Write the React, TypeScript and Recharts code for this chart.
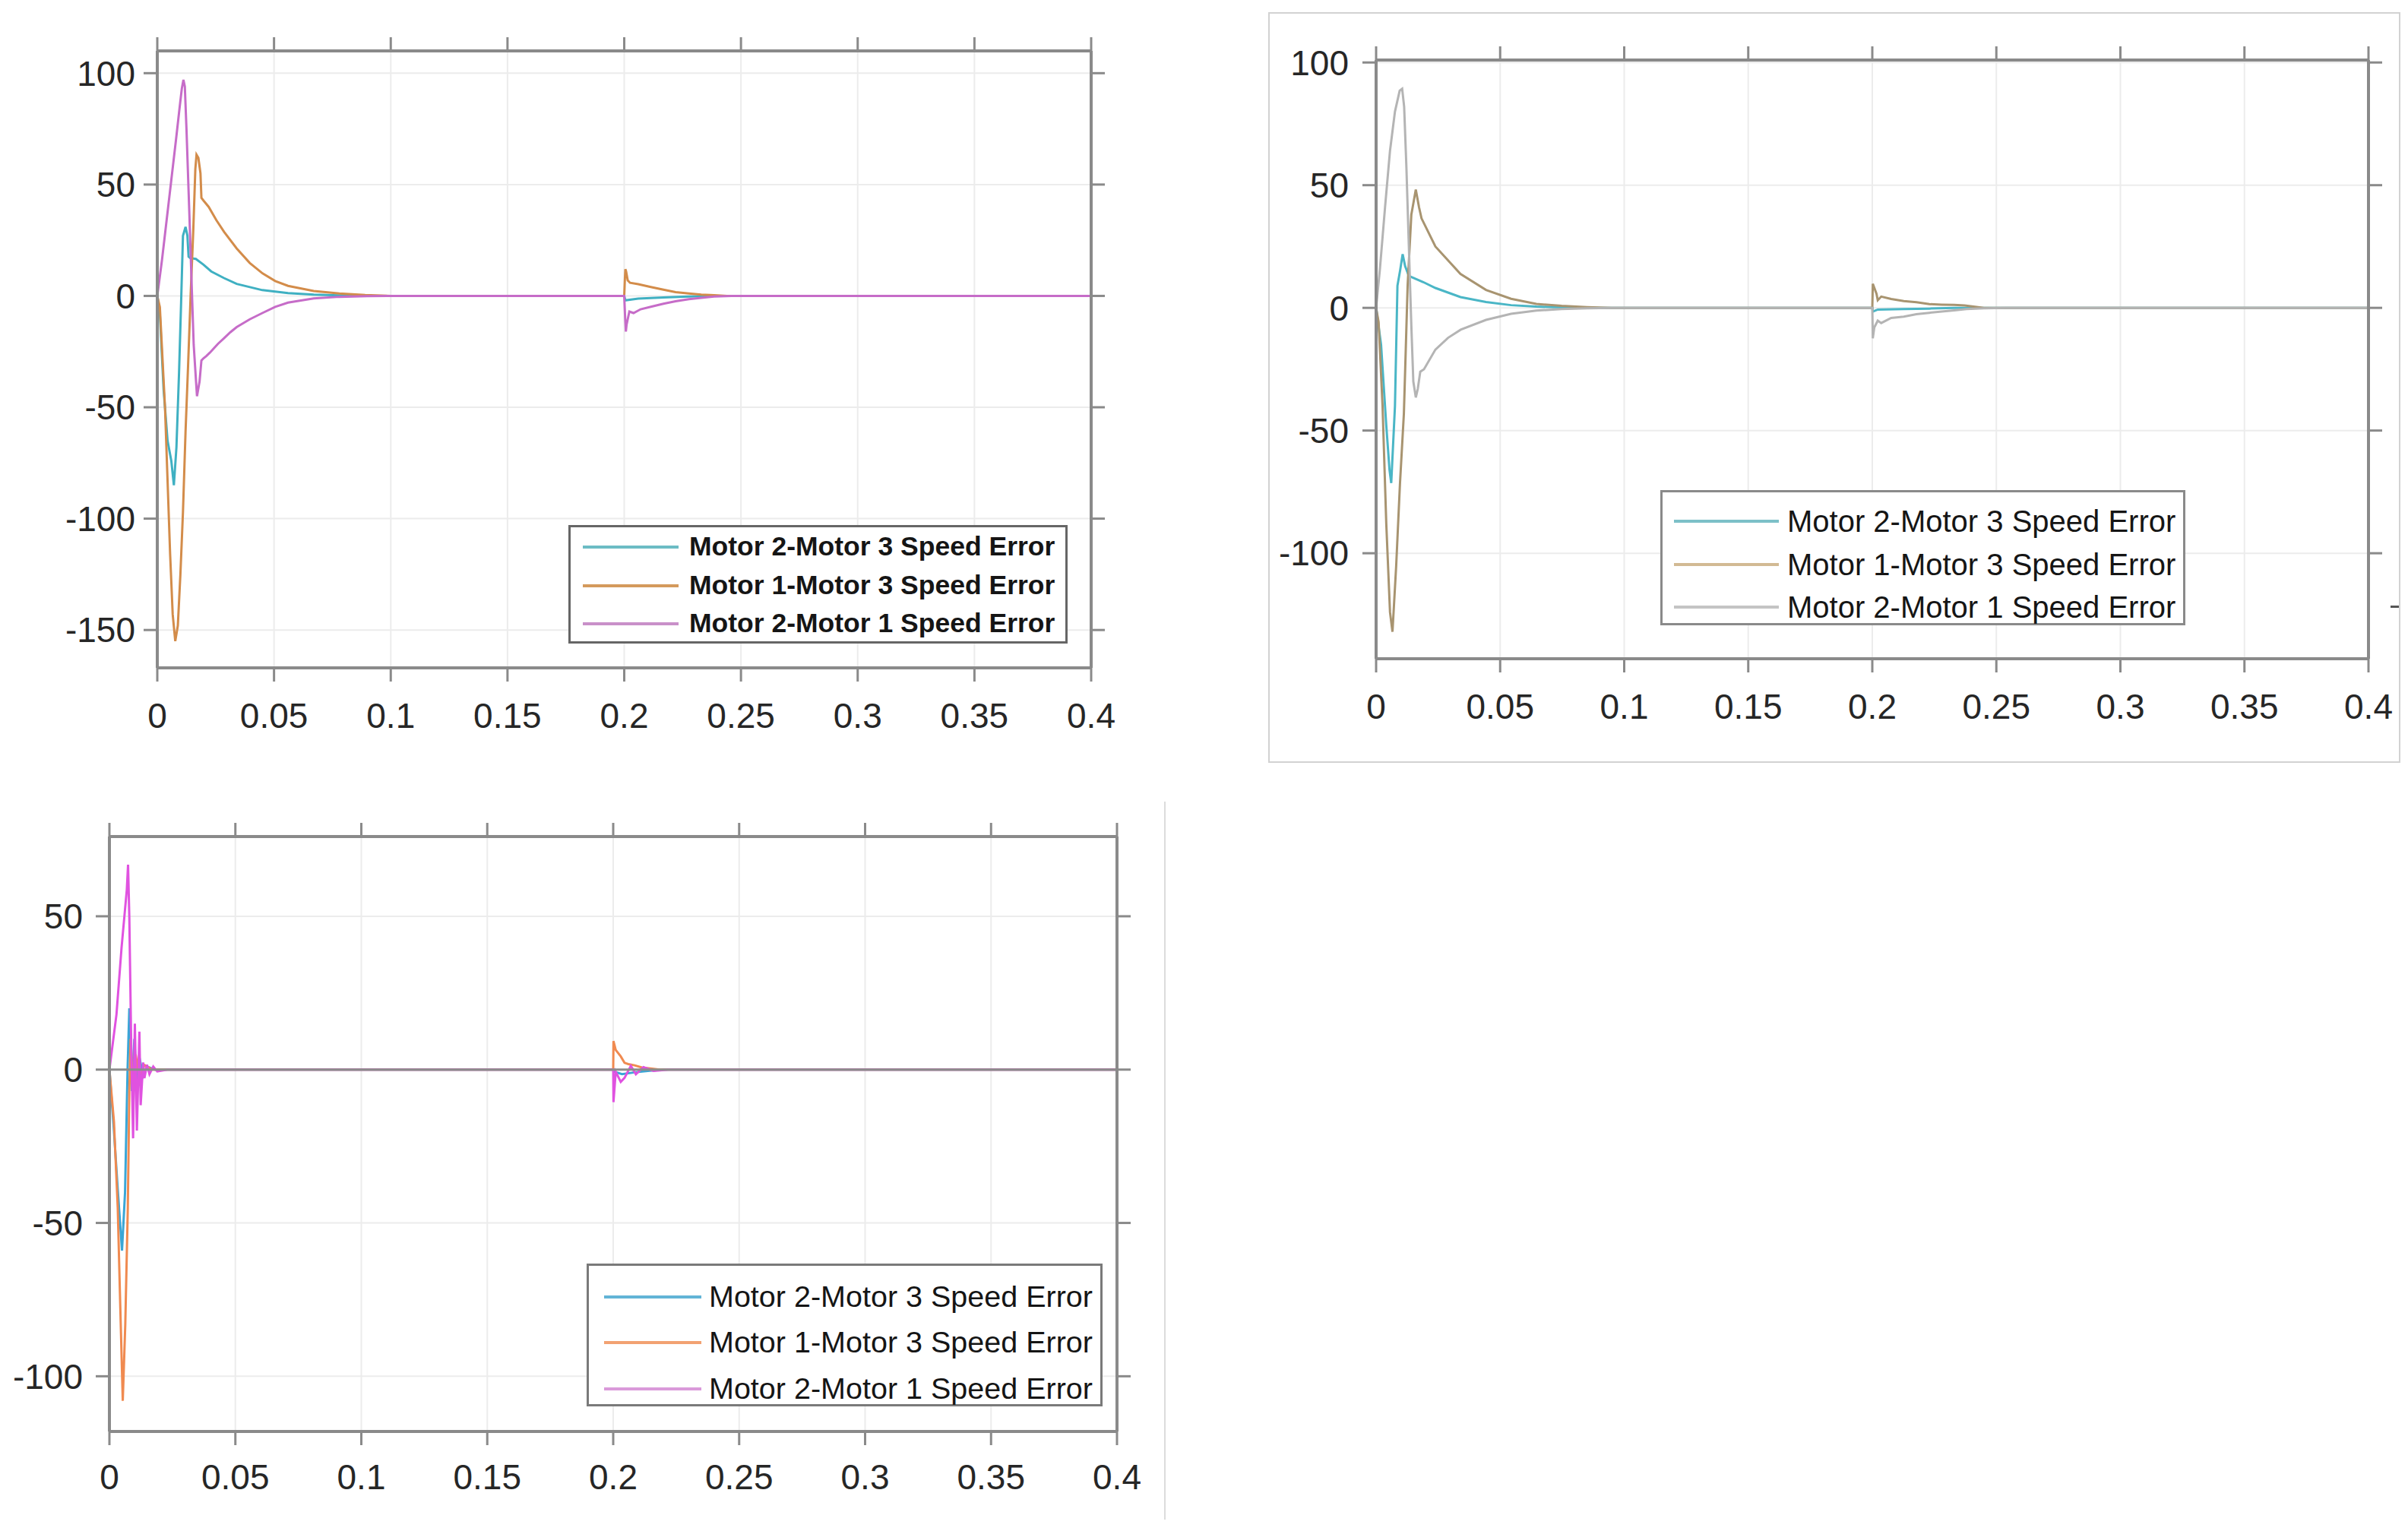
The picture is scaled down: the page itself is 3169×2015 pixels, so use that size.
import React from 'react';
import { LineChart, Line, XAxis, YAxis, CartesianGrid, ReferenceLine } from 'recharts';

// ---------- shared ----------
const xTicks = [0, 0.05, 0.1, 0.15, 0.2, 0.25, 0.3, 0.35, 0.4];
const seriesNames = [
  'Motor 2-Motor 3 Speed Error',
  'Motor 1-Motor 3 Speed Error',
  'Motor 2-Motor 1 Speed Error',
];

// ---------- plot 1 (top left) ----------
const p1YTicks = [-150, -100, -50, 0, 50, 100];
const p1YDomain = [-167, 110];
const p1M23: [number, number][] = [
  [0, 0], [0.0011, -8], [0.0027, -42], [0.0044, -65], [0.006, -74], [0.0071, -85], [0.0082, -68],
  [0.0093, -35], [0.0102, -3], [0.011, 27], [0.0121, 31], [0.0129, 27], [0.0134, 17.6], [0.0141, 17],
  [0.0165, 16.6], [0.0198, 14], [0.0231, 11], [0.0286, 8], [0.034, 5.4], [0.045, 2.6], [0.056, 1.3],
  [0.067, 0.6], [0.078, 0.2], [0.089, 0], [0.2, 0], [0.2005, -2], [0.206, -1.2], [0.2168, -0.7],
  [0.2277, -0.3], [0.2385, 0], [0.4, 0],
];
const p1M13: [number, number][] = [
  [0, 0], [0.0011, -5], [0.0033, -50], [0.0055, -116], [0.0066, -143], [0.0077, -155], [0.0088, -148],
  [0.0099, -125], [0.011, -97], [0.0121, -61], [0.0132, -31], [0.0143, 0.7], [0.0154, 29], [0.0163, 57],
  [0.0168, 63.4], [0.0176, 62], [0.0185, 55], [0.0189, 44], [0.0198, 42.8], [0.022, 40], [0.0253, 34],
  [0.0286, 28.8], [0.034, 21.3], [0.0396, 14.8], [0.0451, 10.1], [0.0505, 6.7], [0.056, 4.5],
  [0.067, 2.2], [0.078, 1.1], [0.089, 0.4], [0.1, 0], [0.2, 0], [0.2003, 8], [0.2005, 12], [0.2008, 11],
  [0.2015, 7], [0.2025, 5.9], [0.206, 5.3], [0.2114, 4], [0.2168, 2.8], [0.222, 1.7], [0.2277, 1.1],
  [0.233, 0.6], [0.2385, 0.3], [0.244, 0], [0.4, 0],
];
const p1M21: [number, number][] = [
  [0, 0], [0.002, 16], [0.004, 34], [0.006, 52], [0.008, 70], [0.0095, 84], [0.0105, 93], [0.0112, 97],
  [0.0118, 94], [0.0125, 75], [0.0137, 38], [0.0148, 2.6], [0.0156, -22], [0.017, -45], [0.0181, -38.5],
  [0.0189, -29], [0.0198, -28], [0.021, -27], [0.0225, -25.5], [0.026, -21.5], [0.0286, -19],
  [0.0313, -16.3], [0.034, -14], [0.0396, -10.5], [0.045, -7.7], [0.0505, -4.9], [0.056, -3],
  [0.067, -1.1], [0.078, -0.4], [0.09, -0.1], [0.1, 0], [0.2, 0], [0.2004, -10], [0.2007, -16],
  [0.201, -13], [0.2022, -7], [0.204, -7.7], [0.207, -6], [0.2114, -4.9], [0.2168, -3.5], [0.222, -2.4],
  [0.2277, -1.5], [0.233, -0.9], [0.2385, -0.3], [0.246, 0], [0.4, 0],
];

// ---------- plot 2 (top right) ----------
const p2YTicks = [-100, -50, 0, 50, 100];
const p2YDomain = [-143, 101];
const p2M23: [number, number][] = [
  [0, 0], [0.002, -15], [0.0041, -48], [0.0054, -66], [0.0061, -71.4], [0.0076, -40], [0.0086, 9],
  [0.0097, 15.4], [0.0107, 21.9], [0.0117, 17], [0.0132, 13], [0.019, 10.5], [0.0239, 8.1], [0.034, 4.4],
  [0.0443, 2.4], [0.0544, 1.1], [0.0646, 0.5], [0.075, 0.2], [0.085, 0], [0.2, 0], [0.2002, -1.5],
  [0.2022, -0.7], [0.2127, -0.5], [0.223, -0.3], [0.233, 0], [0.4, 0],
];
const p2M13: [number, number][] = [
  [0, 0], [0.001, -5.7], [0.0026, -40], [0.0041, -88], [0.0056, -124], [0.0066, -132], [0.0081, -105],
  [0.0096, -72], [0.0112, -43], [0.0127, 9], [0.0142, 38], [0.016, 48.2], [0.0173, 41], [0.0183, 36.5],
  [0.0239, 25], [0.034, 13.8], [0.0443, 7.3], [0.0544, 3.7], [0.0646, 1.6], [0.0748, 0.8], [0.085, 0.3],
  [0.095, 0], [0.2, 0], [0.2002, 9.8], [0.2017, 5.7], [0.2022, 3.1], [0.2036, 4.6], [0.2076, 3.6],
  [0.2127, 2.8], [0.2178, 2.3], [0.223, 1.5], [0.228, 1.3], [0.233, 1.2], [0.2372, 1], [0.245, 0], [0.4, 0],
];
const p2M21: [number, number][] = [
  [0, 0], [0.0015, 15.4], [0.0036, 41], [0.0056, 64], [0.0076, 80], [0.0095, 88.5], [0.0105, 89.3],
  [0.0113, 82], [0.0122, 57.6], [0.0132, 25], [0.0142, -7.3], [0.015, -30], [0.016, -36.5], [0.0168, -33],
  [0.0178, -26], [0.0193, -25], [0.0239, -17], [0.029, -12.2], [0.0341, -8.9], [0.0443, -4.9],
  [0.0544, -2.4], [0.0646, -1.1], [0.0748, -0.5], [0.085, -0.2], [0.095, 0], [0.2, 0], [0.2002, -12.4],
  [0.2008, -8], [0.2022, -5.2], [0.2036, -6.2], [0.2076, -4.1], [0.2127, -3.6], [0.2178, -2.6],
  [0.223, -2], [0.228, -1.5], [0.233, -1], [0.238, -0.5], [0.245, -0.2], [0.2535, 0], [0.4, 0],
];

// ---------- plot 3 (bottom left) ----------
const p3YTicks = [-100, -50, 0, 50];
const p3YDomain = [-118, 76];
const p3M23: [number, number][] = [
  [0, 0], [0.0018, -20], [0.0033, -39], [0.005, -59], [0.0062, -40], [0.0072, 0], [0.0079, 20],
  [0.0089, -7], [0.0099, 10], [0.0109, -5], [0.0119, 4], [0.0134, -2], [0.0149, 1], [0.018, 0],
  [0.2, 0], [0.2005, -0.7], [0.2035, -1.5], [0.2085, -0.9], [0.2145, -0.4], [0.22, 0], [0.4, 0],
];
const p3M13: [number, number][] = [
  [0, 0], [0.0018, -17], [0.0033, -45], [0.0043, -77], [0.0053, -108], [0.0063, -83], [0.0073, -45],
  [0.0079, -7], [0.0084, 10], [0.0094, -6], [0.0104, 5], [0.0119, -3], [0.0139, 1.5], [0.017, 0],
  [0.2, 0], [0.2001, 9.3], [0.201, 6.4], [0.203, 4.3], [0.2045, 2.2], [0.206, 1.8], [0.2085, 1.4],
  [0.2114, 0.7], [0.2154, 0.3], [0.2184, 0], [0.4, 0],
];
const p3M21: [number, number][] = [
  [0, 0], [0.0028, 18], [0.0048, 39.6], [0.0069, 58.6], [0.0074, 66.8], [0.0079, 49.7], [0.0087, 5.4],
  [0.0094, -22.4], [0.0101, 15], [0.0109, -19.9], [0.0119, 12.4], [0.0124, -11.6], [0.0134, 2.3],
  [0.0139, -2.8], [0.0149, 1.6], [0.0159, -1.5], [0.0174, 1], [0.019, -0.6], [0.023, 0], [0.2, 0],
  [0.2001, -10.6], [0.201, -0.7], [0.203, -4], [0.2045, -2.7], [0.207, 1.2], [0.209, -1.5], [0.212, 0.8],
  [0.216, -0.4], [0.222, 0], [0.4, 0],
];

const toPts = (arr: [number, number][]) => arr.map(([t, v]) => ({ t, v }));

const FONT = '"Liberation Sans", Arial, Helvetica, sans-serif';
const AXIS = '#8a8a8a';

type PlotProps = {
  left: number; top: number; width: number; height: number;
  yW: number; yWR: number; xHT: number; xHB: number;
  yDomain: number[]; yTicks: number[];
  series: [number, number][][]; colors: string[];
  yMargin: number; xMargin: number; zeroLine?: string;
};

function Plot(p: PlotProps) {
  const tickStyle = { fontSize: 46, fill: '#262626', fontFamily: FONT };
  const line = { stroke: AXIS, strokeWidth: 4 };
  const tl = { stroke: AXIS, strokeWidth: 3 };
  return (
    <div style={{ position: 'absolute', left: p.left, top: p.top, width: p.width, height: p.height }}>
      <LineChart width={p.width} height={p.height} margin={{ top: 0, right: 0, bottom: 0, left: 0 }}>
        <CartesianGrid stroke="#ececec" strokeWidth={2} />
        <XAxis xAxisId={0} dataKey="t" type="number" domain={[0, 0.4]} ticks={xTicks} interval={0}
          height={p.xHB} tickSize={18} tickMargin={p.xMargin} tick={tickStyle} axisLine={line} tickLine={tl}
          allowDataOverflow />
        <XAxis xAxisId="top" orientation="top" dataKey="t" type="number" domain={[0, 0.4]} ticks={xTicks}
          interval={0} height={p.xHT} tickSize={18} tickFormatter={() => ''} axisLine={line} tickLine={tl}
          allowDataOverflow />
        <YAxis yAxisId={0} type="number" domain={p.yDomain} ticks={p.yTicks} interval={0} width={p.yW}
          tickSize={18} tickMargin={p.yMargin} tick={tickStyle} axisLine={line} tickLine={tl} allowDataOverflow />
        <YAxis yAxisId="right" orientation="right" type="number" domain={p.yDomain} ticks={p.yTicks}
          interval={0} width={p.yWR} tickSize={18} tickFormatter={() => ''} axisLine={line} tickLine={tl}
          allowDataOverflow />
        {p.series.map((s, i) => (
          <Line key={i} xAxisId={0} yAxisId={0} data={toPts(s)} dataKey="v" type="linear"
            stroke={p.colors[i]} strokeWidth={3} dot={false} activeDot={false} isAnimationActive={false} />
        ))}
        {p.zeroLine ? (
          <ReferenceLine xAxisId={0} yAxisId={0} y={0} stroke={p.zeroLine} strokeWidth={3} />
        ) : null}
      </LineChart>
    </div>
  );
}

type LegendProps = {
  left: number; top: number; width: number; height: number;
  rows: number[]; lineX: number[]; textX: number; fontSize: number; bold: boolean;
  colors: string[]; border: string;
};

function LegendBox(l: LegendProps) {
  return (
    <div style={{
      position: 'absolute', left: l.left, top: l.top, width: l.width, height: l.height,
      boxSizing: 'border-box', border: `3px solid ${l.border}`, background: '#fff',
    }}>
      {seriesNames.map((name, i) => (
        <React.Fragment key={i}>
          <div style={{
            position: 'absolute', left: l.lineX[0], width: l.lineX[1] - l.lineX[0], top: l.rows[i] - 2,
            height: 4, background: l.colors[i],
          }} />
          <div style={{
            position: 'absolute', left: l.textX, top: l.rows[i] - l.fontSize / 2, height: l.fontSize,
            lineHeight: `${l.fontSize}px`, fontSize: l.fontSize, fontFamily: FONT,
            fontWeight: l.bold ? 700 : 400, color: '#151515', whiteSpace: 'nowrap',
          }}>{name}</div>
        </React.Fragment>
      ))}
    </div>
  );
}

const p1Colors = ['#3fb0c2', '#d38c4a', '#c66cc8'];
const p1LegendColors = ['#6cbcc4', '#d49a5c', '#c990c9'];
const p2Colors = ['#4ab6c6', '#a89470', '#b4b4b4'];
const p2LegendColors = ['#7cc0c8', '#d2ba94', '#c4c4c4'];
const p3Colors = ['#3aa6d6', '#f08a50', '#e052e0'];
const p3LegendColors = ['#62b4d6', '#f2a272', '#da9ada'];

export default function App() {
  return (
    <div style={{ position: 'absolute', left: 0, top: 0, width: 3169, height: 2015, background: '#fff', overflow: 'hidden' }}>
      {/* plot 1 */}
      <Plot left={0} top={0} width={1500} height={1000} yW={207} yWR={64} xHT={67} xHB={121}
        yDomain={p1YDomain} yTicks={p1YTicks} series={[p1M23, p1M13, p1M21]} colors={p1Colors}
        yMargin={11} xMargin={28} />
      <LegendBox left={748} top={691} width={657} height={156} rows={[26, 77, 127]} lineX={[16, 142]}
        textX={156} fontSize={35.5} bold={true} colors={p1LegendColors} border="#666" />

      {/* plot 2 with frame */}
      <div style={{ position: 'absolute', left: 1669, top: 16, width: 1490, height: 988, boxSizing: 'border-box', border: '2px solid #d2d2d2' }} />
      <Plot left={1669} top={16} width={1490} height={988} yW={142} yWR={42} xHT={63} xHB={137}
        yDomain={p2YDomain} yTicks={p2YTicks} series={[p2M23, p2M13, p2M21]} colors={p2Colors}
        yMargin={18} xMargin={28} />
      <LegendBox left={2185} top={645} width={691} height={178} rows={[38, 95, 151]} lineX={[15, 153]}
        textX={164} fontSize={40} bold={false} colors={p2LegendColors} border="#8a8a8a" />
      <div style={{ position: 'absolute', left: 3146, top: 797, width: 11, height: 3, background: '#555' }} />

      {/* plot 3 */}
      <div style={{ position: 'absolute', left: 0, top: 1055, width: 1532, height: 945, borderRight: '2px solid #dcdcdc' }} />
      <Plot left={0} top={1040} width={1532} height={975} yW={144} yWR={62} xHT={61} xHB={131}
        yDomain={p3YDomain} yTicks={p3YTicks} series={[p3M23, p3M13, p3M21]} colors={p3Colors}
        yMargin={17} xMargin={25} zeroLine="#8c8c8c" />
      <LegendBox left={772} top={1663} width={679} height={188} rows={[41, 101, 162]} lineX={[20, 148]}
        textX={158} fontSize={39.5} bold={false} colors={p3LegendColors} border="#7a7a7a" />
    </div>
  );
}
